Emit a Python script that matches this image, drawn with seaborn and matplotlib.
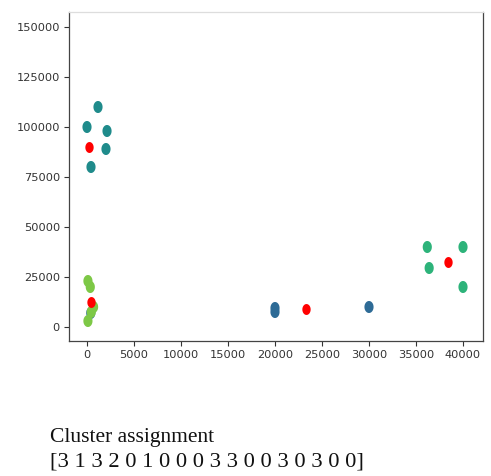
import matplotlib
matplotlib.use("Agg")
import matplotlib.pyplot as plt
from matplotlib.path import Path
import seaborn as sns
import pandas as pd
import numpy as np

# ---- data ----
blue_x = [400, 20000, 20000, 30000]
blue_y = [7000, 7500, 9500, 10000]
teal_x = [1170, 0, 2130, 2020, 425]
teal_y = [110000, 100000, 98000, 89000, 80000]
lightgreen_x = [100, 350, 700, 450, 100]
lightgreen_y = [23000, 20000, 10000, 7500, 3000]
green_x = [36200, 36400, 40000, 40000]
green_y = [40000, 29500, 40000, 20000]
centroid_x = [210, 400, 23300, 38400]
centroid_y = [90000, 12500, 9000, 32500]
x_ticks = [0, 5000, 10000, 15000, 20000, 25000, 30000, 35000, 40000]
y_ticks = [0, 25000, 50000, 75000, 100000, 125000, 150000]
caption_title = "Cluster assignment"
assignment = [3, 1, 3, 2, 0, 1, 0, 0, 0, 3, 3, 0, 0, 3, 0, 3, 0, 0]

palette = {"c_blue": "#2e6b96", "c_teal": "#1f8b8b",
           "c_lightgreen": "#7dc846", "c_green": "#2db37a"}

rows = []
for name, xs, ys in [("c_blue", blue_x, blue_y), ("c_teal", teal_x, teal_y),
                     ("c_lightgreen", lightgreen_x, lightgreen_y),
                     ("c_green", green_x, green_y)]:
    for a, b in zip(xs, ys):
        rows.append({"x": a, "y": b, "cluster": name})
df = pd.DataFrame(rows)
cent = pd.DataFrame({"x": centroid_x, "y": centroid_y})

# slightly tall elliptical marker (as in the reference image)
t = np.linspace(0, 2 * np.pi, 60)
ellipse = Path(np.column_stack([0.76 * np.cos(t), np.sin(t)]), closed=True)

sns.set_theme(style="ticks")
plt.rcParams["font.family"] = ["DejaVu Sans"]

fig = plt.figure(figsize=(4.91, 4.76), dpi=100)
ax = fig.add_axes([69/491, 1-341/476, (483-69)/491, (341-12)/476])

sns.scatterplot(data=df, x="x", y="y", hue="cluster", palette=palette,
                s=75, linewidth=0, marker=ellipse, ax=ax, legend=False,
                zorder=2)
sns.scatterplot(data=cent, x="x", y="y", color="#ff0000", s=62,
                linewidth=0, marker=ellipse, ax=ax, legend=False, zorder=3)

ax.set_xlim(-1915, 42128)
ax.set_ylim(-7000, 157500)
ax.set_xticks(x_ticks)
ax.set_yticks(y_ticks)
ax.set_xlabel("")
ax.set_ylabel("")
ax.tick_params(axis="both", labelsize=8.2, colors="#333333", length=3.5,
               width=0.8, pad=3)
for sp in ax.spines.values():
    sp.set_visible(True)
    sp.set_color("#444444")
    sp.set_linewidth(0.9)
ax.spines["top"].set_color("#dddddd")

fig.text(50/491, 1-442/476, caption_title, family=["Liberation Serif"],
         fontsize=15.5, va="baseline", ha="left", color="#111111")
fig.text(50/491, 1-467/476, "[" + " ".join(str(v) for v in assignment) + "]",
         family=["Liberation Serif"], fontsize=16.2, va="baseline",
         ha="left", color="#111111")

fig.savefig("out.png", dpi=100)
